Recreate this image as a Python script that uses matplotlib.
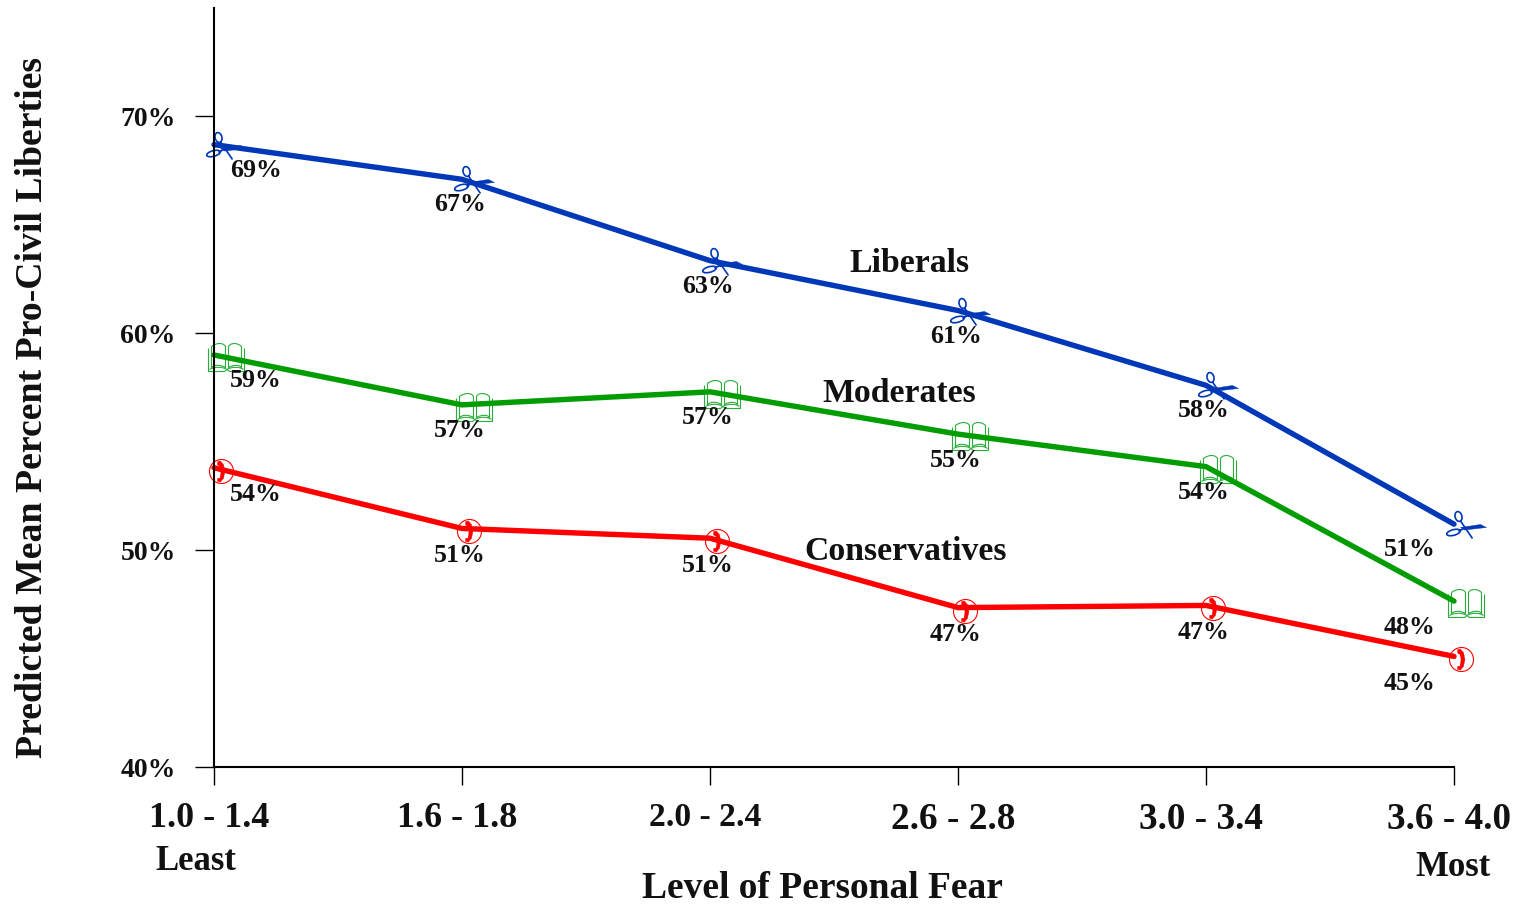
import matplotlib
matplotlib.use("Agg")
import matplotlib.pyplot as plt
from matplotlib.path import Path
from matplotlib.transforms import Affine2D, ScaledTranslation

plt.rcParams['font.family'] = ['Liberation Serif', 'DejaVu Serif']
plt.rcParams['font.weight'] = 'bold'

fear_levels = ["1.0 - 1.4", "1.6 - 1.8", "2.0 - 2.4", "2.6 - 2.8", "3.0 - 3.4", "3.6 - 4.0"]
liberals = [68.7, 67.1, 63.35, 61.05, 57.6, 51.2]
moderates = [59.0, 56.7, 57.3, 55.35, 53.85, 47.65]
conservatives = [53.8, 51.0, 50.55, 47.35, 47.45, 45.1]
y_ticks = [40, 50, 60, 70]

BLUE = '#0038b8'
GREEN = '#009c00'
RED = '#ff0000'
INK = '#111111'
PX = 0.72  # points per pixel at dpi 100


def ellipse(cx, cy, rx, ry, angle=0):
    t = Affine2D().scale(rx, ry).rotate_deg(angle).translate(cx, cy)
    return Path.unit_circle().transformed(t)


def build(segments):
    # each segment: list of (code, x, y)
    verts, codes = [], []
    for seg in segments:
        for c, x, y in seg:
            codes.append(c)
            verts.append((x, y))
    return Path(verts, codes)


M, L, C = Path.MOVETO, Path.LINETO, Path.CURVE4

# book glyph, open pages inside a cover
book = build([
    [(M, -6, 7), (L, -6, -16), (L, 10, -16), (L, 12.5, -14), (L, 15, -16), (L, 30, -16), (L, 30, 7)],
    [(M, -3, 9), (C, 2, 13), (C, 9, 13), (C, 11, 9), (L, 11, -12), (C, 6, -9), (C, 0, -9), (C, -3, -12), (L, -3, 9)],
    [(M, 14, 9), (C, 16, 13), (C, 23, 13), (C, 27, 9), (L, 27, -12), (C, 25, -9), (C, 19, -9), (C, 14, -12), (L, 14, 9)],
    [(M, -5, -14), (C, 0, -11), (C, 8, -11), (C, 12.5, -14), (C, 17, -11), (C, 25, -11), (C, 29, -14)],
])

# scissors: two finger loops and the thin blade, the wide blade is filled separately
scissors_lines = Path.make_compound_path(
    ellipse(4, 8, 3.4, 5, 15),
    ellipse(-1, -8, 7, 2.8, 15),
    Path([(18, -14), (6, 3.5)], [M, L]),
    Path([(9, -4), (4, -7)], [M, L]),
)
scissors_blade = Path([(6, -3), (26, 0), (32, -3), (10, -5.5), (6, -3)], [M, L, L, L, L])

# telephone: ring and filled handset
ring = ellipse(7, -3, 12, 12)
handset = Path([(3, 7), (6, 7.5), (9, 4), (10.5, -3), (9, -10), (6, -13.5), (3, -13), (3, -10),
                (5.5, -9.5), (6.5, -3), (5.5, 2), (3, 3.5), (3, 7)],
               [M, L, L, L, L, L, L, L, L, L, L, L, L])


def msize(path):
    return 2 * abs(path.vertices).max() * PX


fig = plt.figure(figsize=(15.2, 9.05), dpi=100)
ax = fig.add_axes([214 / 1520, 1 - 767 / 905, (1454 - 214) / 1520, (767 - 8) / 905])
x = list(range(len(fear_levels)))


def draw(values, color, dy):
    ax.plot(x, values, color=color, lw=3.9, zorder=2, clip_on=False, solid_capstyle='round')
    for i, v in enumerate(values):
        if i == 0:
            dx = 42
        elif i == len(values) - 1:
            dx = -44
        else:
            dx = -2
        ax.annotate(f"{v:.0f}%", (i, v), xytext=(dx * PX, -(dy + 1) * PX), textcoords='offset points',
                    ha='center', va='center', fontsize=18.6, color=INK, zorder=5)


ax.plot(x, liberals, ls='none', marker=scissors_lines, ms=msize(scissors_lines), mfc='none',
        mec=BLUE, mew=1.2, clip_on=False, zorder=1.5)
ax.plot(x, liberals, ls='none', marker=scissors_blade, ms=msize(scissors_blade), mfc=BLUE,
        mec=BLUE, mew=0.3, clip_on=False, zorder=1.5)
ax.plot(x, moderates, ls='none', marker=book, ms=msize(book), mfc='none',
        mec='#2aae3a', mew=0.8, clip_on=False, zorder=1.5)
ax.plot(x, conservatives, ls='none', marker=ring, ms=msize(ring), mfc='none',
        mec=RED, mew=0.8, clip_on=False, zorder=1.5)
ax.plot(x, conservatives, ls='none', marker=handset, ms=msize(handset), mfc=RED,
        mec=RED, mew=0.2, clip_on=False, zorder=3)

draw(liberals, BLUE, 24.5)
draw(moderates, GREEN, 25)
draw(conservatives, RED, 26)

ax.set_xlim(0, 5)
ax.set_ylim(40, 75)
for s in ['top', 'right']:
    ax.spines[s].set_visible(False)
for s in ['left', 'bottom']:
    ax.spines[s].set_linewidth(1.5)
    ax.spines[s].set_color('black')
    ax.spines[s].set_zorder(2.5)

ax.set_yticks(y_ticks)
ax.set_yticklabels([f"{t}%" for t in y_ticks], fontsize=20, color=INK)
ax.tick_params(axis='y', length=13.5, width=1, pad=14)
ax.set_xticks(x)
ax.set_xticklabels(fear_levels, color=INK)
ax.tick_params(axis='x', length=13, width=1, pad=12)

# tick labels sit a little left of their ticks, the first three are narrower
tick_sizes = [25.8, 25.8, 24.2, 26.8, 26.8, 26.8]
for lab, size in zip(ax.get_xticklabels(), tick_sizes):
    lab.set_transform(lab.get_transform() + ScaledTranslation(-5 * PX / 72, 0, fig.dpi_scale_trans))
    lab.set_fontsize(size)


def px_text(px, py, s, size, **kw):
    fig.text(px / 1520, 1 - py / 905, s, fontsize=size, ha='center', va='center', color=INK, **kw)


px_text(909, 263, "Liberals", 24.3)
px_text(899, 394, "Moderates", 24.3)
px_text(906, 551, "Conservatives", 24.3)
px_text(196, 861, "Least", 25)
px_text(1453, 867, "Most", 25)
px_text(822, 888, "Level of Personal Fear", 27)
px_text(33, 407, "Predicted Mean Percent Pro-Civil Liberties", 27.2, rotation=90)

fig.savefig("out.png", dpi=100, facecolor='white')
